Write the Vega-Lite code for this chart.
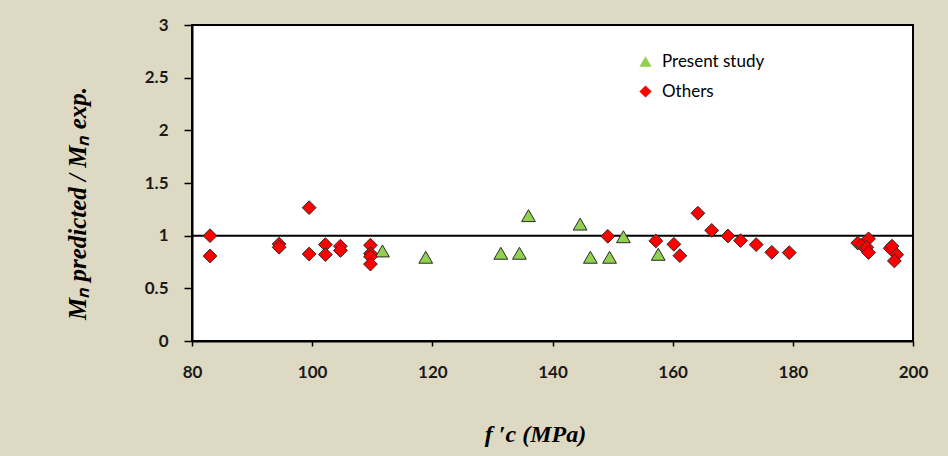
{
  "$schema": "https://vega.github.io/schema/vega-lite/v6.json",
  "autosize": {"type": "none"},
  "width": 721,
  "height": 316,
  "padding": {"left": 192, "top": 25, "right": 35, "bottom": 115},
  "background": "#DDD9C3",
  "config": {
    "view": {"fill": "white", "stroke": "black", "strokeWidth": 2},
    "axis": {
      "grid": false,
      "domainColor": "black",
      "domainWidth": 2,
      "tickColor": "black",
      "tickWidth": 1.5,
      "labelFont": "Lato",
      "labelFontWeight": "bold",
      "labelFontSize": 17,
      "labelColor": "#1a1a1a",
      "labelFlush": false
    }
  },
  "datasets": {
    "points": [
      {"fc": 111.7, "ratio": 0.855, "series": "Present study"},
      {"fc": 118.9, "ratio": 0.795, "series": "Present study"},
      {"fc": 131.4, "ratio": 0.833, "series": "Present study"},
      {"fc": 134.5, "ratio": 0.833, "series": "Present study"},
      {"fc": 136.0, "ratio": 1.19, "series": "Present study"},
      {"fc": 144.6, "ratio": 1.11, "series": "Present study"},
      {"fc": 146.3, "ratio": 0.795, "series": "Present study"},
      {"fc": 149.5, "ratio": 0.795, "series": "Present study"},
      {"fc": 151.8, "ratio": 0.99, "series": "Present study"},
      {"fc": 157.6, "ratio": 0.823, "series": "Present study"},
      {"fc": 83.0, "ratio": 1.0, "series": "Others"},
      {"fc": 83.0, "ratio": 0.807, "series": "Others"},
      {"fc": 94.5, "ratio": 0.92, "series": "Others"},
      {"fc": 94.5, "ratio": 0.89, "series": "Others"},
      {"fc": 99.5, "ratio": 1.266, "series": "Others"},
      {"fc": 99.5, "ratio": 0.826, "series": "Others"},
      {"fc": 102.2, "ratio": 0.915, "series": "Others"},
      {"fc": 102.2, "ratio": 0.82, "series": "Others"},
      {"fc": 104.7, "ratio": 0.9, "series": "Others"},
      {"fc": 104.7, "ratio": 0.86, "series": "Others"},
      {"fc": 109.7, "ratio": 0.91, "series": "Others"},
      {"fc": 109.7, "ratio": 0.83, "series": "Others"},
      {"fc": 109.7, "ratio": 0.8, "series": "Others"},
      {"fc": 109.7, "ratio": 0.73, "series": "Others"},
      {"fc": 149.2, "ratio": 0.994, "series": "Others"},
      {"fc": 157.2, "ratio": 0.95, "series": "Others"},
      {"fc": 160.2, "ratio": 0.918, "series": "Others"},
      {"fc": 161.2, "ratio": 0.81, "series": "Others"},
      {"fc": 164.2, "ratio": 1.213, "series": "Others"},
      {"fc": 166.5, "ratio": 1.05, "series": "Others"},
      {"fc": 169.2, "ratio": 0.997, "series": "Others"},
      {"fc": 171.3, "ratio": 0.953, "series": "Others"},
      {"fc": 173.9, "ratio": 0.915, "series": "Others"},
      {"fc": 176.5, "ratio": 0.842, "series": "Others"},
      {"fc": 179.4, "ratio": 0.839, "series": "Others"},
      {"fc": 190.8, "ratio": 0.93, "series": "Others"},
      {"fc": 191.5, "ratio": 0.91, "series": "Others"},
      {"fc": 192.6, "ratio": 0.97, "series": "Others"},
      {"fc": 192.3, "ratio": 0.89, "series": "Others"},
      {"fc": 192.6, "ratio": 0.84, "series": "Others"},
      {"fc": 196.2, "ratio": 0.88, "series": "Others"},
      {"fc": 196.5, "ratio": 0.9, "series": "Others"},
      {"fc": 197.3, "ratio": 0.82, "series": "Others"},
      {"fc": 196.9, "ratio": 0.76, "series": "Others"}
    ],
    "ref": [{"ratio": 1}]
  },
  "layer": [
    {
      "data": {"name": "ref"},
      "mark": {"type": "rule", "color": "black", "strokeWidth": 2},
      "encoding": {
        "y": {"field": "ratio", "type": "quantitative", "scale": {"domain": [0, 3]}}
      }
    },
    {
      "data": {"name": "points"},
      "mark": {"type": "point", "filled": true, "size": 190, "stroke": "#2a2a2a", "strokeWidth": 1, "opacity": 1},
      "encoding": {
        "x": {
          "field": "fc", "type": "quantitative",
          "scale": {"domain": [80, 200], "nice": false, "zero": false},
          "axis": {
            "values": [80, 100, 120, 140, 160, 180, 200],
            "tickSize": 5,
            "labelPadding": 18,
            "title": "f ′c (MPa)",
            "titleFont": "Liberation Serif",
            "titleFontStyle": "italic",
            "titleFontWeight": "bold",
            "titleFontSize": 24,
            "titleColor": "black",
            "titleX": 343,
            "titleY": 100,
            "titleBaseline": "alphabetic",
            "titleAlign": "center"
          }
        },
        "y": {
          "field": "ratio", "type": "quantitative",
          "scale": {"domain": [0, 3], "nice": false},
          "axis": {
            "values": [0, 0.5, 1, 1.5, 2, 2.5, 3],
            "format": ".1~f",
            "tickSize": 8,
            "labelPadding": 16,
            "title": "Mₙ predicted / Mₙ exp.",
            "titleFont": "Liberation Serif",
            "titleFontStyle": "italic",
            "titleFontWeight": "bold",
            "titleFontSize": 25,
            "titleColor": "black",
            "titleX": -102,
            "titleY": 178,
            "titleAngle": -90,
            "titleAlign": "center",
            "titleBaseline": "bottom"
          }
        },
        "shape": {
          "field": "series", "type": "nominal",
          "scale": {"domain": ["Present study", "Others"], "range": ["triangle-up", "diamond"]},
          "legend": {
            "title": null,
            "orient": "none",
            "legendX": 445,
            "legendY": 28,
            "labelFont": "Lato",
            "labelFontSize": 17,
            "labelColor": "black",
            "symbolSize": 150,
            "symbolStrokeColor": "#2a2a2a",
            "symbolStrokeWidth": 1,
            "rowPadding": 12,
            "labelOffset": 8
          }
        },
        "fill": {
          "field": "series", "type": "nominal",
          "scale": {"domain": ["Present study", "Others"], "range": ["#92D050", "#FF0000"]},
          "legend": {
            "title": null,
            "orient": "none",
            "legendX": 445,
            "legendY": 28,
            "labelFont": "Lato",
            "labelFontSize": 17,
            "labelColor": "black",
            "symbolSize": 150,
            "symbolStrokeColor": "#2a2a2a",
            "symbolStrokeWidth": 1,
            "rowPadding": 12,
            "labelOffset": 8
          }
        }
      }
    }
  ]
}
